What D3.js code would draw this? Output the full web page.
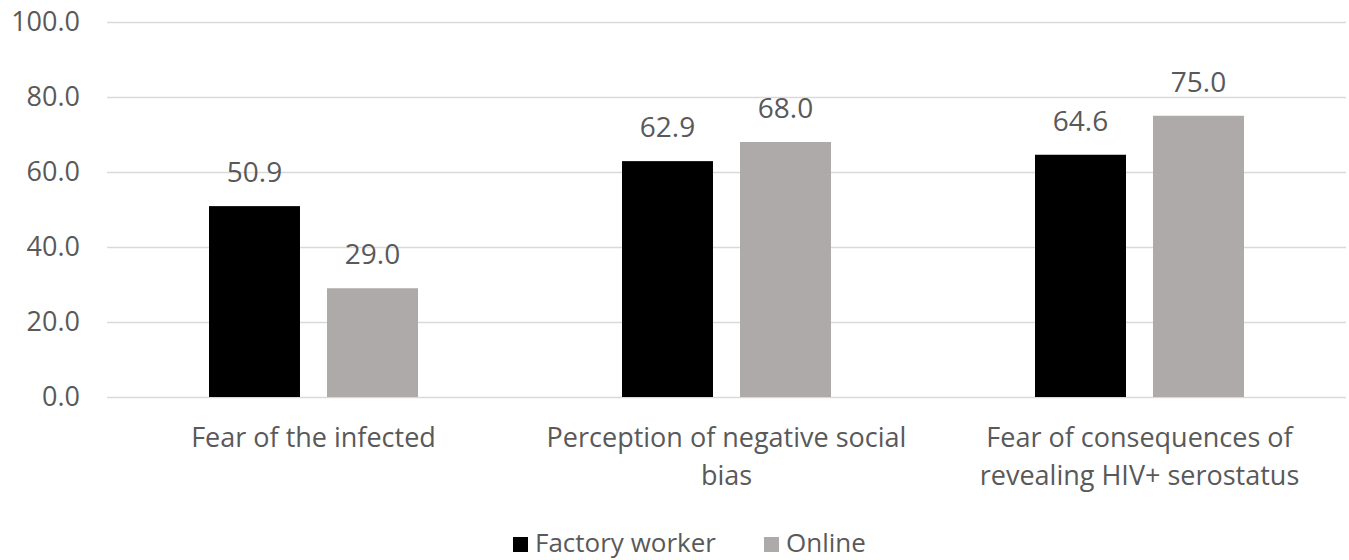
<!DOCTYPE html>
<html>
<head>
<meta charset="utf-8">
<script src="https://cdn.jsdelivr.net/npm/d3@7"></script>
<style>
  html, body { margin: 0; padding: 0; background: #fff; }
  svg { display: block; font-family: "Open Sans", "Liberation Sans", sans-serif; }
</style>
</head>
<body>
<svg id="chart" width="1349" height="560"></svg>
<script>
// Survey categories and percentages for each respondent group
const categories = [
  "Fear of the infected",
  "Perception of negative social bias",
  "Fear of consequences of revealing HIV+ serostatus"
];
const seriesNames = ["Factory worker", "Online"];
const factoryWorker = [50.9, 62.9, 64.6];
const online = [29.0, 68.0, 75.0];
const yTicks = [0, 20, 40, 60, 80, 100];

const seriesValues = [factoryWorker, online];
const colors = ["#000000", "#AEAAAA"];
const textColor = "#595959";
const fontSize = 27;

const svg = d3.select("#chart");
const margin = { left: 107, right: 3, top: 22, bottom: 163 };
const width = 1349, height = 560;

const x = d3.scaleBand()
  .domain(categories)
  .range([margin.left, width - margin.right])
  .paddingInner(0)
  .paddingOuter(0);

const groupPad = 102;
const xInner = d3.scaleBand()
  .domain(seriesNames)
  .range([groupPad, x.bandwidth() - groupPad])
  .paddingInner(0.229)
  .paddingOuter(0);

const y = d3.scaleLinear()
  .domain([0, 100])
  .range([height - margin.bottom, margin.top]);

// Horizontal gridlines and tick labels
const yAxis = d3.axisLeft(y)
  .tickValues(yTicks)
  .tickFormat(d3.format(".1f"))
  .tickSize(-(width - margin.right - margin.left))
  .tickPadding(27);

const gy = svg.append("g")
  .attr("transform", `translate(${margin.left},0)`)
  .call(yAxis)
  .attr("font-family", null)
  .attr("font-size", fontSize);
gy.select(".domain").remove();
gy.selectAll(".tick line").attr("stroke", "#D9D9D9").attr("stroke-width", 1.3);
gy.selectAll(".tick text").attr("fill", textColor);

// Bars
const rows = [];
categories.forEach((c, i) => {
  seriesNames.forEach((s, j) => {
    rows.push({ cat: c, series: s, value: seriesValues[j][i], color: colors[j] });
  });
});

svg.append("g")
  .selectAll("rect")
  .data(rows)
  .join("rect")
  .attr("x", d => x(d.cat) + xInner(d.series))
  .attr("y", d => y(d.value))
  .attr("width", xInner.bandwidth())
  .attr("height", d => y(0) - y(d.value))
  .attr("fill", d => d.color);

// Value labels above bars
svg.append("g")
  .selectAll("text")
  .data(rows)
  .join("text")
  .attr("x", d => x(d.cat) + xInner(d.series) + xInner.bandwidth() / 2)
  .attr("y", d => y(d.value) - 24)
  .attr("text-anchor", "middle")
  .attr("fill", textColor)
  .attr("font-size", 28)
  .text(d => d3.format(".1f")(d.value));

// Category labels, wrapped to the band width
const catG = svg.append("g");
categories.forEach(c => {
  const cx = x(c) + x.bandwidth() / 2;
  const t = catG.append("text")
    .attr("x", cx)
    .attr("y", 447)
    .attr("text-anchor", "middle")
    .attr("fill", textColor)
    .attr("font-size", fontSize);
  const words = c.split(" ");
  const maxW = 390;
  let line = [];
  let tspan = t.append("tspan").attr("x", cx).attr("dy", 0);
  words.forEach(w => {
    line.push(w);
    tspan.text(line.join(" "));
    if (tspan.node().getComputedTextLength() > maxW && line.length > 1) {
      line.pop();
      tspan.text(line.join(" "));
      line = [w];
      tspan = t.append("tspan")
        .attr("x", cx)
        .attr("dy", 38)
        .text(w);
    }
  });
});

// Legend
const legend = svg.append("g").attr("transform", "translate(0,552)");
const legendItems = [
  { name: seriesNames[0], color: colors[0], x: 513 },
  { name: seriesNames[1], color: colors[1], x: 764 }
];
legendItems.forEach(it => {
  legend.append("rect")
    .attr("x", it.x).attr("y", -15)
    .attr("width", 15).attr("height", 15)
    .attr("fill", it.color);
  legend.append("text")
    .attr("x", it.x + 22).attr("y", 0)
    .attr("fill", textColor)
    .attr("font-size", 26)
    .text(it.name);
});
</script>
</body>
</html>
